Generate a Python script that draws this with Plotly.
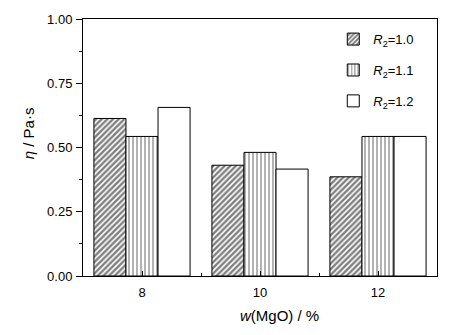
import plotly.graph_objects as go

# MgO content (wt %) on the x axis
categories = ["8", "10", "12"]

# Viscosity (Pa·s) for each basicity ratio R2
eta_r10 = [0.613, 0.431, 0.386]
eta_r11 = [0.543, 0.481, 0.543]
eta_r12 = [0.656, 0.416, 0.543]

series_names = ["<i>R</i><sub>2</sub>=1.0",
                "<i>R</i><sub>2</sub>=1.1",
                "<i>R</i><sub>2</sub>=1.2"]

y_ticks = [0.0, 0.25, 0.5, 0.75, 1.0]
y_tick_text = ["0.00", "0.25", "0.50", "0.75", "1.00"]

FONT = "Liberation Sans, Arial, sans-serif"
pos = list(range(len(categories)))

patterns = [
    dict(shape="/", fgcolor="black", bgcolor="white", size=4, solidity=0.6),
    dict(shape="|", fgcolor="black", bgcolor="white", size=4, solidity=0.3),
    dict(shape="", bgcolor="white"),
]

fig = go.Figure()
for i, (name, vals) in enumerate(zip(series_names, [eta_r10, eta_r11, eta_r12])):
    fig.add_trace(go.Bar(
        x=pos, y=vals, name=name, legendgroup=f"g{i}",
        marker=dict(color="white", line=dict(color="black", width=1),
                    pattern=patterns[i]),
    ))

fig.update_layout(
    width=450, height=335,
    margin=dict(l=83, r=13, t=17, b=59),
    paper_bgcolor="white", plot_bgcolor="white",
    barmode="group", bargap=0.185, bargroupgap=0,
    font=dict(family=FONT, size=13, color="black"),
    legend=dict(x=0.707, y=0.98, xanchor="left", yanchor="top",
                bgcolor="rgba(0,0,0,0)", tracegroupgap=11,
                font=dict(size=13)),
    xaxis=dict(
        range=[-0.5, 2.5], tickvals=pos, ticktext=categories,
        showline=True, linecolor="black", linewidth=1, mirror=True,
        ticks="inside", ticklen=5, tickcolor="black",
        minor=dict(tickvals=[0.5, 1.5], ticks="inside", ticklen=3,
                   tickcolor="black"),
        showgrid=False, zeroline=False, ticklabelstandoff=4,
    ),
    yaxis=dict(
        range=[0, 1.0], tickvals=y_ticks, ticktext=y_tick_text,
        showline=True, linecolor="black", linewidth=1, mirror=True,
        ticks="outside", ticklen=6, tickcolor="black",
        minor=dict(dtick=0.125, tick0=0, ticks="outside", ticklen=3,
                   tickcolor="black"),
        showgrid=False, zeroline=False, ticklabelstandoff=1,
    ),
    annotations=[
        dict(text="<i>w</i>(MgO) / %", xref="paper", yref="paper",
             x=0.556, y=-0.153, xanchor="center", yanchor="middle",
             showarrow=False, font=dict(size=15)),
        dict(text="<i>η</i> / Pa·s", xref="paper", yref="paper",
             x=-0.155, y=0.556, xanchor="center", yanchor="middle",
             textangle=-90, showarrow=False, font=dict(size=15)),
    ],
)

fig.write_html("out.html")
